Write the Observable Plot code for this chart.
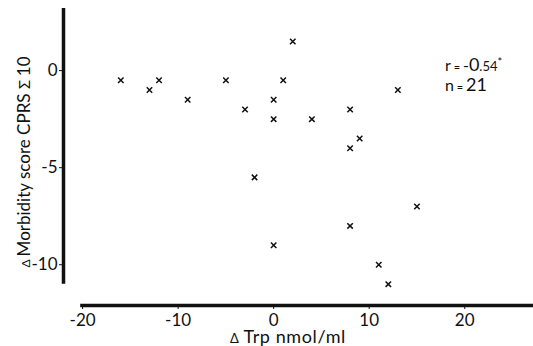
<!DOCTYPE html>
<html><head><meta charset="utf-8">
<script src="https://cdn.jsdelivr.net/npm/d3@7"></script>
<script src="https://cdn.jsdelivr.net/npm/@observablehq/plot@0.6"></script>
<style>body{margin:0;background:#fff}</style>
</head><body><div id="chart"></div>
<script>
const trp = [-16, -13, -12, -9, -5, -3, -2, 2, 1, 0, 0, 4, 8, 13, 9, 8, 15, 8, 0, 11, 12];
const morbidity = [-0.5, -1, -0.5, -1.5, -0.5, -2, -5.5, 1.5, -0.5, -1.5, -2.5, -2.5, -2, -1, -3.5, -4, -7, -8, -9, -10, -11];
const xTicks = [-20, -10, 0, 10, 20];
const yTicks = [0, -5, -10];
const xDomain = [-22, 27.2];
const yDomain = [-12.1, 3.2];
const xAxisExtent = [-20.2, 27.2];
const yAxisExtent = [-11.0, 3.2];
const statsPos = {x: 18, rY: 0.25, nY: -0.75};

const points = trp.map((x, i) => ({x, y: morbidity[i]}));
const font = "Lato, 'DejaVu Sans', sans-serif";

const chart = Plot.plot({
  width: 533, height: 346,
  marginLeft: 63, marginRight: 0, marginTop: 8, marginBottom: 41,
  style: {fontFamily: font, background: "#fff", color: "#111"},
  x: {domain: xDomain},
  y: {domain: yDomain},
  marks: [
    Plot.ruleX([xDomain[0]], {y1: yAxisExtent[0], y2: yAxisExtent[1], stroke: "#111", strokeWidth: 3.5}),
    Plot.ruleY([yDomain[0]], {x1: xAxisExtent[0], x2: xAxisExtent[1], stroke: "#111", strokeWidth: 3.5}),
    Plot.axisY(yTicks, {tickSize: 4, tickPadding: 2, fontSize: 17, label: null, tickFormat: d => d === 0 ? "0" : "-" + Math.abs(d)}),
    Plot.axisX(xTicks, {tickSize: 4, tickPadding: 4, fontSize: 17, label: null, tickFormat: d => d < 0 ? "-" + Math.abs(d) : String(d)}),
    Plot.dot(points, {x: "x", y: "y", symbol: "times", r: 2.6, stroke: "#111", strokeWidth: 1.5})
  ]
});

const svg = d3.select(chart);
const sx = chart.scale("x"), sy = chart.scale("y");

const yl = svg.append("text")
  .attr("transform", "translate(30,162) rotate(-90)")
  .attr("text-anchor", "middle")
  .attr("font-family", font)
  .attr("fill", "#111");
yl.append("tspan").attr("font-size", 12).text("Δ ");
yl.append("tspan").attr("font-size", 17).text("Morbidity score CPRS ");
yl.append("tspan").attr("font-size", 15).text("Σ ");
yl.append("tspan").attr("font-size", 17).text("10");

const xl = svg.append("text")
  .attr("x", 288).attr("y", 343)
  .attr("text-anchor", "middle")
  .attr("font-family", font)
  .attr("letter-spacing", 0.6)
  .attr("fill", "#111");
xl.append("tspan").attr("font-size", 13).text("Δ ");
xl.append("tspan").attr("font-size", 18).text("Trp nmol/ml");

const rt = svg.append("text")
  .attr("x", sx.apply(statsPos.x)).attr("y", sy.apply(statsPos.rY) + 6)
  .attr("text-anchor", "start")
  .attr("font-family", font).attr("fill", "#111");
rt.append("tspan").attr("font-size", 16).text("r");
rt.append("tspan").attr("font-size", 11).text(" = ");
rt.append("tspan").attr("font-size", 16).text("-");
rt.append("tspan").attr("font-size", 18).text("0");
rt.append("tspan").attr("font-size", 13).text(".54");
rt.append("tspan").attr("font-size", 11).attr("dy", -5).text("*");

const nt = svg.append("text")
  .attr("x", sx.apply(statsPos.x)).attr("y", sy.apply(statsPos.nY) + 6)
  .attr("text-anchor", "start")
  .attr("font-family", font).attr("fill", "#111");
nt.append("tspan").attr("font-size", 16).text("n");
nt.append("tspan").attr("font-size", 11).text(" = ");
nt.append("tspan").attr("font-size", 18).text("21");

document.getElementById("chart").appendChild(chart);
</script>
</body></html>
